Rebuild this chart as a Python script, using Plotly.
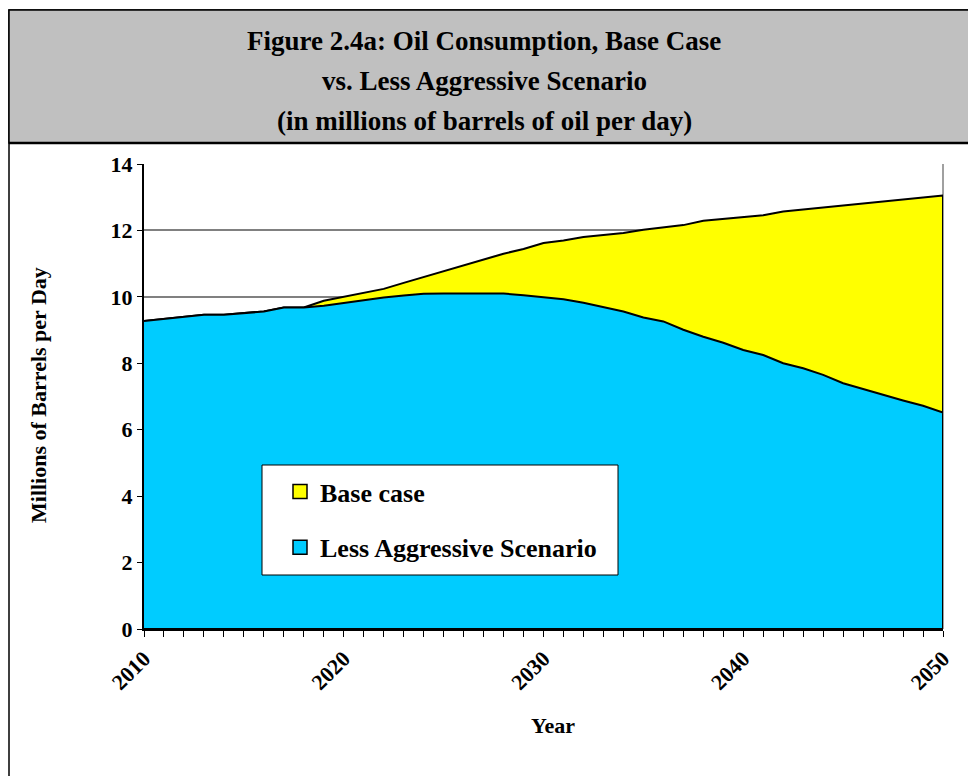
"""Figure 2.4a: oil consumption, base case vs. less aggressive scenario."""

import plotly.graph_objects as go

years = list(range(2010, 2051))

base_case = [
    9.27, 9.33, 9.40, 9.46, 9.46, 9.51, 9.56, 9.68, 9.68, 9.88,
    10.00, 10.11, 10.24, 10.42, 10.60, 10.77, 10.95, 11.12, 11.30, 11.44,
    11.62, 11.70, 11.80, 11.86, 11.92, 12.02, 12.09, 12.16, 12.29, 12.35,
    12.41, 12.46, 12.57, 12.63, 12.69, 12.75, 12.81, 12.87, 12.93, 12.99,
    13.05,
]
less_aggressive = [
    9.27, 9.33, 9.40, 9.46, 9.46, 9.51, 9.56, 9.68, 9.68, 9.73,
    9.82, 9.91, 9.98, 10.04, 10.09, 10.10, 10.10, 10.10, 10.10, 10.05,
    9.98, 9.93, 9.82, 9.70, 9.56, 9.38, 9.26, 9.01, 8.80, 8.62,
    8.40, 8.25, 8.00, 7.85, 7.65, 7.40, 7.22, 7.05, 6.88, 6.72,
    6.52,
]

series = [
    ("Base case", base_case, "#FFFF00"),
    ("Less Aggressive Scenario", less_aggressive, "#00CCFF"),
]

title_lines = [
    "Figure 2.4a: Oil Consumption, Base Case",
    "vs. Less Aggressive Scenario",
    "(in millions of barrels of oil per day)",
]

SERIF = "Liberation Serif"
W, H = 968, 776
L, T = 144, 164
R, B = W - 943, H - 629
PW, PH = W - L - R, H - T - B


# helpers: pixel -> paper coordinate
def px(x):
    return (x - L) / PW


def py(y):
    return (H - B - y) / PH


fig = go.Figure()

for name, vals, color in series:
    fig.add_trace(
        go.Scatter(
            x=years + [years[-1], years[0]],
            y=vals + [0, 0],
            mode="lines", fill="toself", fillcolor=color,
            line=dict(color="black", width=2),
            showlegend=False, hoverinfo="skip",
        )
    )

for i, (name, vals, color) in enumerate(series):
    fig.add_trace(
        go.Scatter(
            x=[None], y=[None], mode="markers", name=name,
            legendgroup=f"g{i}",
            marker=dict(symbol="square", size=14, color=color,
                        line=dict(color="black", width=1.5)),
        )
    )

shapes = [
    # outer frame
    dict(type="rect", xref="paper", yref="paper",
         x0=px(9), x1=px(990), y0=py(800), y1=py(10),
         line=dict(color="black", width=1.5), layer="below"),
    # title box
    dict(type="rect", xref="paper", yref="paper",
         x0=px(9), x1=px(990), y0=py(143), y1=py(10),
         fillcolor="#C0C0C0", line=dict(color="black", width=1.5), layer="below"),
    dict(type="line", xref="paper", yref="paper",
         x0=px(9), x1=px(990), y0=py(143), y1=py(143),
         line=dict(color="black", width=2.5)),
    # plot area border (right side)
    dict(type="line", xref="paper", yref="paper",
         x0=1, x1=1, y0=0, y1=1, line=dict(color="#808080", width=1.5), layer="below"),
    # legend box
    dict(type="rect", xref="paper", yref="paper",
         x0=px(262), x1=px(618), y0=py(575), y1=py(465),
         fillcolor="white", line=dict(color="black", width=1)),
]

annotations = []
for i, line in enumerate(title_lines):
    annotations.append(dict(
        text=line, xref="paper", yref="paper", x=px(484), y=py(41 + 40 * i),
        showarrow=False, xanchor="center", yanchor="middle",
        font=dict(family=SERIF, size=27, color="black", weight="bold"),
    ))
annotations.append(dict(
    text="Millions of Barrels per Day", xref="paper", yref="paper",
    x=px(38), y=py(395), textangle=-90, showarrow=False,
    xanchor="center", yanchor="middle",
    font=dict(family=SERIF, size=22, color="black", weight="bold"),
))
annotations.append(dict(
    text="Year", xref="paper", yref="paper", x=px(553), y=py(725),
    showarrow=False, xanchor="center", yanchor="middle",
    font=dict(family=SERIF, size=22, color="black", weight="bold"),
))

fig.update_layout(
    width=W, height=H,
    margin=dict(l=L, r=R, t=T, b=B),
    paper_bgcolor="white", plot_bgcolor="white",
    shapes=shapes, annotations=annotations,
    showlegend=True,
    legend=dict(
        x=px(280), y=py(468), xanchor="left", yanchor="top",
        bgcolor="rgba(0,0,0,0)", borderwidth=0,
        tracegroupgap=19, traceorder="grouped",
        font=dict(family=SERIF, size=26, color="black", weight="bold"),
    ),
    xaxis=dict(
        range=[2010, 2050], tickmode="linear", tick0=2010, dtick=10,
        showgrid=False, zeroline=False,
        showline=True, linecolor="black", linewidth=2,
        ticks="outside", ticklen=6, tickcolor="black",
        minor=dict(dtick=1, ticks="outside", ticklen=6, tickcolor="black", showgrid=False),
        tickangle=-45,
        tickfont=dict(family=SERIF, size=22, color="black", weight="bold"),
    ),
    yaxis=dict(
        range=[0, 14], tickmode="linear", tick0=0, dtick=2,
        showgrid=True, gridcolor="#808080", gridwidth=1.5, zeroline=False,
        showline=True, linecolor="black", linewidth=2,
        ticks="outside", ticklen=5, tickcolor="black",
        tickfont=dict(family=SERIF, size=22, color="black", weight="bold"),
    ),
)

# page fills the window exactly: no default body margin
post = "document.body.style.margin = '0'; document.body.style.overflow = 'hidden';"
fig.write_html("out.html", config={"displayModeBar": False}, post_script=post)
